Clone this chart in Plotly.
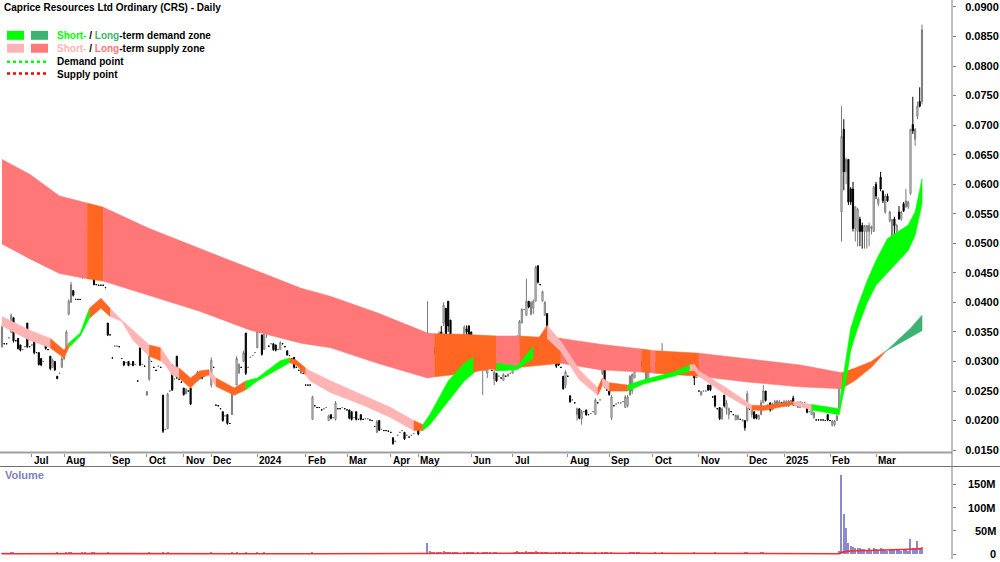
import plotly.graph_objects as go
import pandas as pd

W, H = 1000, 562
FONT = "Liberation Sans, Arial, sans-serif"

# ---------------- data ----------------
# trading days shown per month (Jun-2023 partial ... Mar-2025 partial)
month_bar_counts = [13, 14, 20, 16, 16, 12, 20, 21, 18, 19, 12, 23, 18, 24, 18, 19, 20, 21, 16, 20, 20, 21]
month_labels = ["Jul", "Aug", "Sep", "Oct", "Nov", "Dec", "2024", "Feb", "Mar", "Apr", "May", "Jun",
                "Jul", "Aug", "Sep", "Oct", "Nov", "Dec", "2025", "Feb", "Mar"]

# prices in thousandths of A$ (0.0325 -> 32.5)
open_m = [
    32.5, 33.0, 33.0, 34.0, 35.0, 37.4, 33.5, 33.9, 32.8, 32.0, 32.5, 36.5, 32.5,
    32.8, 33.9, 31.5, 31.5, 30.5, 30.0, 33.9, 32.0, 30.9, 29.0, 30.0, 27.5, 28.0, 29.0,
    30.5, 32.0, 38.0, 40.0, 42.0, 40.5, 40.5, 40.5, 44.2, 49.5, 52.0, 51.0, 50.0, 48.5, 43.0, 42.9, 42.9, 42.9, 42.5, 36.5,
    34.5, 30.6, 32.6, 32.6, 32.5, 30.5, 30.0, 29.8, 30.0, 29.5, 30.0, 29.5, 26.7, 32.3, 29.5, 29.2,
    24.3, 27.0, 30.0, 29.0, 28.5, 29.2, 29.0, 24.3, 18.5, 18.6, 25.0, 29.4, 27.0, 30.9, 27.0, 26.5,
    25.5, 24.5, 25.0, 25.5, 27.0, 26.5, 26.7, 27.0, 28.0, 27.5, 28.0, 28.0,
    26.0, 29.0, 22.6, 22.5, 22.0, 21.5, 20.8, 21.0, 19.5, 21.0, 25.0, 26.0, 28.0, 29.0, 30.0, 34.8, 29.0, 30.7, 31.0, 31.5,
    32.3, 35.0, 34.5, 32.0, 36.0, 32.6, 33.0, 33.0, 32.8, 32.0, 32.0, 33.0, 32.5, 31.8, 31.0, 30.5, 30.7, 29.0, 28.5, 28.0, 28.0,
    26.0, 26.0, 26.0, 20.2, 22.5, 22.2, 22.2, 21.8, 22.0, 22.2, 20.0, 21.0, 20.5, 20.2, 22.0, 22.0, 22.2, 22.0,
    21.8, 21.8, 21.5, 20.5, 21.5, 20.2, 21.0, 20.2, 20.3, 20.3, 20.1, 20.0, 19.0, 18.0, 20.0, 18.5, 18.3, 18.3, 18.2,
    18.0, 17.1, 16.5, 17.5, 18.0, 18.3, 18.0, 17.5, 17.2, 17.5, 17.8, 18.5,
    19.0, 18.8, 19.0, 19.0, 29.2, 29.5, 33.1, 32.3, 31.2, 31.7, 35.0, 36.5, 39.0, 40.2, 37.0, 32.5, 33.0, 33.0, 32.5, 31.8, 33.0, 35.5, 36.0,
    35.0, 33.5, 32.0, 30.0, 29.3, 29.2, 28.5, 28.0, 30.0, 28.5, 27.0, 28.0, 27.5, 27.2, 26.8, 27.5, 27.5, 28.0,
    28.0, 28.9, 29.4, 32.6, 36.5, 38.8, 37.8, 40.2, 38.0, 39.0, 40.2, 46.2, 43.0, 40.2, 37.8, 38.1, 33.0, 31.1, 30.5, 30.0, 30.0, 29.0, 27.5, 26.0,
    27.5, 24.2, 23.5, 23.0, 21.0, 22.0, 20.3, 21.5, 21.8, 21.0, 21.2, 21.5, 21.0, 23.0, 23.5, 28.0, 31.0, 26.5,
    25.0, 20.5, 22.5, 22.8, 23.0, 23.0, 23.2, 22.2, 22.5, 24.3, 25.0, 27.2, 29.0, 31.0, 30.0, 28.5, 26.7, 27.0, 28.3,
    28.5, 28.4, 31.0, 31.0, 30.0, 30.5, 29.3, 30.0, 29.4, 30.2, 29.5, 30.9, 30.4, 30.5, 30.2, 30.2, 31.0, 30.9, 30.6, 27.3,
    25.0, 24.3, 25.0, 25.0, 26.0, 26.0, 24.0, 24.2, 22.0, 22.2, 20.3, 24.3, 22.0, 21.0, 21.5, 21.0, 20.1, 20.2, 20.2, 20.0, 20.0,
    20.0, 22.5, 21.0, 21.5, 21.0, 20.2, 21.0, 23.0, 25.0, 22.0, 23.0, 21.8, 22.5, 22.5, 22.5, 23.0,
    22.5, 22.5, 22.5, 23.2, 23.8, 22.5, 22.2, 22.2, 23.0, 23.0, 22.5, 21.5, 21.0, 20.5, 20.1, 20.1, 20.1, 20.1, 20.0, 21.0,
    20.0, 19.2, 19.3, 20.0, 22.2, 55.3, 69.3, 62.1, 64.2, 59.2, 59.2, 52.5, 52.0, 54.1, 53.0, 52.0, 52.0, 52.0, 52.5, 52.0,
    60.0, 56.7, 61.2, 58.8, 55.3, 58.0, 53.8, 51.3, 54.1, 52.0, 55.3, 54.1, 56.7, 56.2, 56.2, 58.4, 70.1, 67.6, 71.5, 74.0, 74.0,
]
high_m = [
    36.2, 33.0, 33.0, 34.0, 38.1, 37.4, 33.5, 33.9, 32.8, 32.0, 32.5, 36.5, 32.5,
    32.8, 33.9, 31.5, 31.5, 30.5, 30.0, 33.9, 32.0, 30.9, 30.5, 30.0, 27.5, 28.0, 30.9,
    32.0, 35.3, 40.5, 43.5, 42.0, 40.5, 40.5, 40.5, 52.5, 53.0, 52.0, 51.0, 50.0, 48.5, 43.0, 42.9, 42.9, 42.9, 42.5, 36.5,
    34.5, 30.6, 32.6, 32.6, 32.5, 30.5, 30.0, 29.8, 30.0, 29.5, 30.0, 29.5, 26.7, 32.3, 29.5, 29.2,
    25.0, 32.3, 30.0, 29.0, 28.5, 29.2, 29.0, 24.3, 18.5, 24.7, 25.0, 29.4, 27.0, 30.9, 27.0, 26.5,
    25.5, 25.5, 25.0, 25.5, 27.0, 26.5, 28.4, 28.4, 28.0, 28.5, 28.0, 28.0,
    30.7, 29.0, 22.6, 22.5, 22.0, 21.5, 20.8, 21.0, 19.5, 25.5, 25.0, 30.9, 29.7, 29.0, 31.8, 34.8, 29.0, 30.7, 31.0, 31.5,
    38.1, 35.0, 34.5, 37.8, 37.5, 32.6, 33.0, 33.0, 32.8, 32.0, 33.4, 33.0, 32.5, 31.8, 31.0, 30.5, 30.7, 29.0, 28.5, 28.8, 28.0,
    26.0, 26.0, 26.0, 24.2, 22.5, 22.2, 22.2, 21.8, 22.0, 22.2, 21.0, 21.0, 20.5, 23.3, 22.0, 22.0, 22.2, 22.0,
    21.8, 21.8, 21.5, 20.5, 21.5, 20.2, 21.0, 20.2, 20.3, 20.3, 20.1, 20.0, 19.0, 20.1, 20.0, 18.5, 18.3, 18.3, 18.2,
    18.0, 17.1, 16.5, 17.5, 18.0, 18.3, 18.0, 17.5, 17.2, 17.5, 17.8, 18.5,
    19.0, 18.8, 19.0, 19.0, 40.2, 33.1, 33.1, 32.3, 33.0, 35.1, 36.0, 40.0, 39.0, 40.2, 37.0, 34.5, 33.0, 33.0, 32.5, 32.2, 36.1, 36.1, 36.1,
    35.0, 33.5, 32.0, 30.0, 30.0, 30.2, 29.6, 31.1, 30.0, 28.5, 28.5, 28.0, 27.5, 27.2, 28.0, 27.5, 28.0, 28.0,
    29.0, 30.0, 34.5, 37.0, 39.0, 38.8, 44.0, 40.2, 40.2, 40.5, 46.2, 46.2, 43.0, 42.0, 40.2, 38.1, 33.0, 31.1, 30.5, 30.0, 30.0, 29.0, 27.5, 28.5,
    27.5, 24.2, 23.5, 23.0, 22.2, 22.0, 21.8, 21.5, 21.8, 21.0, 21.2, 21.5, 23.8, 23.0, 23.5, 32.3, 32.3, 26.5,
    25.0, 24.3, 22.5, 22.8, 23.0, 23.0, 23.2, 24.3, 24.3, 27.7, 28.0, 32.3, 31.8, 31.0, 30.0, 28.5, 28.5, 28.5, 29.0,
    28.5, 30.0, 31.0, 31.0, 33.1, 30.5, 30.0, 30.0, 30.3, 30.2, 31.0, 30.9, 31.0, 30.5, 31.2, 31.0, 31.0, 30.9, 30.6, 27.3,
    25.0, 25.0, 25.0, 25.0, 26.0, 26.0, 24.0, 24.2, 22.0, 22.2, 22.2, 24.3, 23.5, 22.2, 21.5, 21.0, 21.0, 21.0, 20.2, 20.2, 20.0,
    25.0, 22.5, 22.5, 21.5, 21.0, 21.0, 23.5, 26.0, 25.0, 22.8, 23.0, 23.0, 23.5, 23.5, 23.5, 23.0,
    23.5, 23.5, 23.5, 23.5, 24.2, 23.0, 23.3, 23.3, 23.0, 23.0, 22.5, 21.5, 22.8, 21.5, 20.1, 20.1, 20.1, 20.1, 20.0, 21.0,
    20.0, 20.1, 20.1, 21.0, 26.0, 73.2, 71.0, 64.5, 64.2, 59.5, 60.4, 56.2, 56.0, 54.5, 53.5, 53.0, 53.0, 53.5, 53.0, 59.7,
    60.4, 57.8, 62.1, 59.0, 58.4, 58.4, 55.5, 54.1, 54.5, 53.3, 56.3, 55.5, 57.0, 59.2, 57.2, 69.3, 74.8, 69.5, 74.0, 76.4, 87.0,
]
low_m = [
    32.3, 33.0, 33.0, 34.0, 34.8, 33.2, 33.5, 32.0, 31.7, 32.0, 32.5, 32.3, 32.5,
    32.8, 31.2, 31.5, 29.3, 29.2, 30.0, 32.0, 32.0, 28.5, 29.0, 28.4, 27.0, 28.0, 29.0,
    30.2, 31.9, 37.8, 40.0, 41.0, 40.5, 40.5, 40.5, 44.0, 49.0, 52.0, 51.0, 44.5, 42.9, 43.0, 42.9, 42.9, 42.9, 42.5, 34.3,
    34.5, 30.6, 32.6, 32.6, 32.5, 30.5, 29.2, 29.8, 29.2, 29.5, 29.2, 29.5, 26.7, 29.2, 29.5, 29.2,
    24.2, 26.7, 30.0, 29.0, 28.5, 29.2, 29.0, 17.9, 18.5, 18.6, 25.0, 25.0, 27.0, 27.0, 27.0, 26.5,
    24.2, 24.5, 25.0, 22.6, 26.1, 26.5, 26.7, 27.0, 27.0, 27.5, 28.0, 28.0,
    25.6, 29.0, 22.6, 22.5, 22.0, 19.8, 20.8, 19.3, 19.5, 21.0, 25.0, 26.0, 28.0, 29.0, 30.0, 27.7, 29.0, 30.7, 31.0, 31.5,
    32.3, 35.0, 31.0, 32.0, 34.0, 32.6, 33.0, 31.8, 31.7, 32.0, 32.0, 33.0, 32.5, 31.0, 31.0, 30.5, 28.8, 29.0, 28.5, 28.0, 28.0,
    26.0, 26.0, 26.0, 20.1, 22.5, 22.2, 22.2, 21.8, 22.0, 22.2, 20.0, 20.2, 20.5, 20.0, 22.0, 22.0, 22.2, 22.0,
    21.8, 20.2, 20.0, 20.5, 20.0, 20.2, 20.0, 20.2, 20.3, 20.3, 20.1, 20.0, 19.0, 17.9, 18.2, 18.5, 18.3, 18.3, 18.2,
    18.0, 15.9, 16.5, 17.5, 18.0, 18.3, 16.7, 17.5, 17.2, 17.5, 17.8, 18.5,
    17.5, 18.8, 19.0, 19.0, 28.9, 29.2, 29.2, 31.1, 31.2, 31.7, 32.5, 36.0, 33.4, 35.0, 32.0, 32.5, 32.5, 32.2, 32.5, 31.8, 33.0, 34.5, 32.7,
    33.5, 32.5, 32.0, 29.2, 29.2, 24.3, 28.5, 27.2, 29.0, 28.5, 26.0, 26.5, 27.5, 27.2, 26.8, 27.5, 27.5, 28.0,
    28.0, 28.9, 29.4, 32.6, 36.5, 38.8, 37.8, 39.0, 37.8, 38.0, 40.2, 43.2, 43.0, 40.2, 37.8, 33.9, 33.0, 31.1, 30.5, 28.9, 29.2, 29.0, 25.2, 25.5,
    27.5, 23.0, 23.5, 23.0, 20.0, 20.2, 19.3, 21.5, 20.8, 21.0, 21.2, 21.5, 21.0, 23.0, 23.5, 27.7, 25.5, 25.0,
    24.2, 20.1, 22.5, 22.8, 23.0, 23.0, 23.2, 22.2, 22.2, 24.3, 24.5, 27.2, 28.9, 29.5, 29.0, 28.5, 26.7, 26.9, 28.3,
    28.5, 28.4, 29.8, 30.0, 30.0, 29.6, 29.2, 29.3, 29.4, 29.4, 29.5, 30.2, 30.4, 30.5, 30.0, 30.2, 30.2, 30.0, 26.0, 27.3,
    25.0, 24.3, 25.0, 25.0, 25.0, 25.0, 24.0, 22.2, 22.0, 20.1, 20.1, 22.2, 21.0, 20.2, 21.5, 21.0, 20.1, 20.1, 20.2, 19.8, 18.3,
    19.8, 21.8, 20.5, 20.2, 20.2, 20.2, 21.0, 23.0, 23.2, 22.0, 21.5, 21.8, 22.2, 22.3, 22.3, 23.0,
    22.3, 22.3, 22.3, 23.2, 22.5, 22.5, 22.2, 22.2, 23.0, 23.0, 21.2, 21.5, 21.0, 20.3, 20.1, 20.1, 20.1, 20.1, 20.0, 19.9,
    20.0, 19.0, 19.0, 20.0, 22.0, 50.3, 59.0, 60.0, 56.5, 56.5, 52.0, 50.3, 49.5, 49.5, 49.1, 49.1, 49.1, 49.5, 51.5, 52.0,
    57.5, 56.3, 58.8, 56.8, 55.0, 57.0, 53.5, 51.0, 50.3, 50.3, 54.0, 53.8, 55.3, 56.0, 55.8, 58.2, 68.5, 66.5, 71.0, 73.0, 73.5,
]
close_m = [
    35.8, 33.0, 33.0, 34.0, 37.8, 33.5, 33.5, 32.2, 31.9, 32.0, 32.5, 32.5, 32.5,
    32.8, 31.5, 31.5, 29.5, 29.4, 30.0, 32.2, 32.0, 28.8, 30.2, 28.6, 27.1, 28.0, 30.5,
    31.8, 35.0, 40.2, 43.0, 41.2, 40.5, 40.5, 40.5, 50.0, 51.5, 52.0, 51.0, 44.8, 43.0, 43.0, 42.9, 42.9, 42.9, 42.5, 34.5,
    34.5, 30.6, 32.6, 32.6, 32.5, 30.5, 29.4, 29.8, 29.3, 29.5, 29.3, 29.5, 26.7, 29.4, 29.5, 29.2,
    24.9, 31.8, 30.0, 29.0, 28.5, 29.2, 29.0, 18.2, 18.5, 24.5, 25.0, 25.2, 27.0, 27.3, 27.0, 26.5,
    24.4, 25.3, 25.0, 22.8, 26.3, 26.5, 28.2, 28.2, 27.2, 28.3, 28.0, 28.0,
    30.2, 29.0, 22.6, 22.5, 22.0, 20.0, 20.8, 19.5, 19.5, 25.2, 25.0, 30.5, 29.5, 29.0, 31.5, 28.0, 29.0, 30.7, 31.0, 31.5,
    35.1, 35.0, 31.2, 37.5, 36.5, 32.6, 33.0, 32.0, 31.9, 32.0, 33.2, 33.0, 32.5, 31.1, 31.0, 30.5, 29.0, 29.0, 28.5, 28.6, 28.0,
    26.0, 26.0, 26.0, 24.0, 22.5, 22.2, 22.2, 21.8, 22.0, 22.2, 20.8, 20.4, 20.5, 23.0, 22.0, 22.0, 22.2, 22.0,
    21.8, 20.4, 20.2, 20.5, 20.2, 20.2, 20.2, 20.2, 20.3, 20.3, 20.1, 20.0, 19.0, 19.8, 18.4, 18.5, 18.3, 18.3, 18.2,
    18.0, 16.1, 16.5, 17.5, 18.0, 18.3, 16.9, 17.5, 17.2, 17.5, 17.8, 18.5,
    17.7, 18.8, 19.0, 19.0, 30.0, 32.8, 29.5, 31.2, 32.8, 34.8, 33.0, 39.5, 33.6, 36.0, 32.5, 34.0, 32.6, 32.3, 32.5, 32.0, 35.8, 35.0, 33.0,
    33.8, 32.6, 32.0, 29.4, 29.8, 29.9, 29.4, 30.8, 29.3, 28.5, 28.2, 26.7, 27.5, 27.2, 27.8, 27.5, 27.8, 28.0,
    28.9, 29.8, 32.6, 36.8, 38.8, 38.8, 40.2, 39.2, 40.0, 40.2, 46.0, 43.4, 43.0, 41.8, 40.0, 34.1, 33.0, 31.1, 30.5, 29.2, 29.4, 29.0, 25.4, 28.2,
    27.5, 23.2, 23.5, 23.0, 22.0, 20.4, 21.5, 21.5, 21.0, 21.0, 21.2, 21.5, 23.5, 23.0, 23.5, 31.0, 26.0, 25.2,
    24.4, 24.0, 22.5, 22.8, 23.0, 23.0, 23.2, 24.0, 24.0, 27.5, 27.8, 29.0, 31.5, 29.8, 29.2, 28.5, 28.3, 28.3, 28.8,
    28.5, 29.8, 30.0, 30.2, 30.9, 29.8, 29.8, 29.5, 30.2, 29.6, 30.8, 30.4, 30.9, 30.5, 31.0, 30.9, 30.3, 30.1, 27.2, 27.3,
    25.0, 24.9, 25.0, 25.0, 25.2, 25.2, 24.0, 22.5, 22.0, 20.3, 22.0, 22.5, 23.0, 22.0, 21.5, 21.0, 20.9, 20.8, 20.2, 20.1, 18.8,
    24.5, 22.0, 22.2, 20.4, 20.4, 20.9, 23.0, 25.0, 23.4, 22.6, 21.8, 22.8, 23.2, 23.3, 23.2, 23.0,
    23.2, 23.2, 23.3, 23.4, 22.7, 23.0, 23.0, 23.0, 23.0, 23.0, 21.4, 21.5, 22.5, 21.3, 20.1, 20.1, 20.1, 20.1, 20.0, 20.1,
    20.0, 19.9, 19.9, 20.8, 25.8, 68.1, 62.1, 64.2, 57.0, 57.0, 52.5, 56.2, 55.8, 52.0, 52.0, 53.0, 53.0, 53.0, 52.8, 59.5,
    58.0, 57.5, 59.2, 57.2, 58.0, 57.2, 55.3, 54.0, 53.0, 53.0, 54.1, 55.3, 55.5, 57.2, 57.0, 69.3, 69.0, 69.3, 73.2, 73.2, 86.1,
]
# daily volume, millions of shares
volume_mn = [
    0.8, 0.2, 0.3, 0.4, 1.5, 1.2, 0.3, 0.9, 0.7, 0.2, 0.3, 1.1, 0.4,
    0.3, 0.9, 0.2, 0.8, 0.6, 0.2, 1.0, 0.3, 0.9, 0.7, 0.8, 1.2, 0.3, 0.9,
    0.8, 1.5, 2.5, 2.8, 0.9, 0.2, 0.2, 0.3, 3.5, 2.0, 0.4, 0.3, 1.8, 1.5, 0.2, 0.1, 0.2, 0.2, 0.3, 1.4,
    0.3, 0.5, 0.4, 0.2, 0.3, 0.3, 0.6, 0.2, 0.5, 0.2, 0.5, 0.3, 0.4, 0.9, 0.2, 0.3,
    0.6, 1.5, 0.3, 0.2, 0.2, 0.3, 0.2, 2.2, 0.3, 1.8, 0.3, 0.9, 0.2, 0.8, 0.3, 0.2,
    0.6, 0.5, 0.2, 0.8, 0.6, 0.3, 0.7, 0.6, 0.5, 0.6, 0.2, 0.2,
    1.2, 0.4, 0.3, 0.2, 0.2, 0.7, 0.2, 0.8, 0.2, 1.5, 0.3, 2.0, 0.9, 0.3, 1.0, 2.4, 0.3, 0.2, 0.3, 0.2,
    1.8, 0.3, 0.9, 1.6, 1.0, 0.3, 0.2, 0.6, 0.5, 0.2, 0.5, 0.2, 0.3, 0.5, 0.2, 0.2, 0.8, 0.2, 0.2, 0.4, 0.2,
    0.3, 0.2, 0.2, 1.3, 0.2, 0.2, 0.2, 0.2, 0.2, 0.2, 0.6, 0.5, 0.2, 1.1, 0.2, 0.2, 0.3, 0.2,
    0.2, 0.6, 0.5, 0.2, 0.5, 0.2, 0.4, 0.2, 0.2, 0.2, 0.2, 0.2, 0.3, 0.8, 0.6, 0.2, 0.2, 0.2, 0.2,
    0.2, 1.0, 0.3, 0.2, 0.2, 0.2, 0.7, 0.2, 0.2, 0.2, 0.2, 0.3,
    0.6, 0.2, 0.2, 0.2, 22.0, 4.5, 3.8, 1.5, 2.0, 3.5, 2.8, 4.8, 3.9, 4.2, 3.0, 2.2, 1.2, 1.5, 0.8, 1.0, 3.2, 2.0, 2.6,
    2.2, 1.4, 0.8, 2.0, 1.1, 3.5, 1.2, 2.5, 1.3, 0.6, 1.8, 1.5, 0.5, 0.4, 1.0, 0.5, 0.8, 0.5,
    1.0, 1.6, 4.5, 4.0, 3.2, 0.8, 4.8, 2.2, 2.5, 2.0, 5.5, 3.5, 1.0, 2.0, 2.5, 3.8, 1.0, 0.8, 0.6, 1.4, 1.2, 0.6, 2.1, 1.6,
    0.7, 1.5, 0.4, 0.5, 1.6, 1.4, 1.8, 0.4, 0.9, 0.4, 0.3, 0.4, 1.5, 0.3, 0.4, 3.5, 3.0, 1.2,
    1.0, 2.0, 0.4, 0.3, 0.3, 0.3, 0.3, 1.1, 1.0, 1.8, 1.5, 2.2, 1.8, 1.2, 1.0, 0.5, 1.1, 1.0, 0.7,
    0.4, 1.2, 1.0, 0.9, 1.9, 0.8, 0.7, 0.8, 0.7, 0.8, 1.0, 0.7, 0.8, 0.3, 1.0, 0.8, 0.9, 0.8, 2.0, 0.3,
    0.4, 0.6, 0.2, 0.2, 0.6, 0.6, 0.3, 1.2, 0.3, 1.0, 1.1, 1.0, 0.9, 0.8, 0.2, 0.2, 0.6, 0.6, 0.2, 0.5, 1.4,
    2.5, 0.7, 0.9, 0.8, 0.6, 0.5, 1.2, 1.8, 1.1, 0.6, 0.8, 0.7, 0.8, 0.7, 0.6, 0.2,
    0.7, 0.6, 0.7, 0.4, 1.0, 0.4, 0.6, 0.6, 0.2, 0.2, 0.9, 0.2, 1.0, 0.6, 0.2, 0.2, 0.2, 0.2, 0.2, 0.7,
    0.2, 0.8, 0.7, 0.9, 6.0, 170.0, 85.0, 55.0, 22.0, 16.0, 15.0, 13.0, 11.0, 12.0, 9.0, 10.0, 8.0, 11.0, 7.0, 12.0,
    10.0, 7.0, 12.0, 9.0, 8.0, 6.0, 7.0, 9.0, 10.0, 8.0, 9.0, 6.0, 7.0, 8.0, 6.0, 31.0, 12.0, 9.0, 26.0, 11.0, 15.0,
]

# long-term zone: bar index, two edges (thousandths of A$), state of each following stretch
lt_idx = [0, 12, 25, 37, 44, 64, 86, 108, 130, 143, 164, 185, 188, 200, 215, 225, 243, 260, 278, 282, 284, 303,
          325, 347, 365, 371, 378, 384, 390, 395, 400]
lt_a = [64.2, 61.7, 58.0, 56.8, 56.1, 52.5, 49.1, 45.7, 42.4, 41.0, 38.1, 34.8, 34.7, 34.6, 34.3, 34.3, 33.9, 32.9,
        32.1, 31.9, 31.8, 31.4, 30.4, 29.4, 28.1, 28.9, 30.0, 31.7, 33.0, 34.0, 35.2]
lt_b = [49.9, 47.4, 44.9, 44.0, 43.6, 41.2, 38.5, 35.3, 33.1, 32.3, 29.6, 27.2, 27.4, 27.9, 28.9, 29.0, 29.7, 28.6,
        28.2, 28.1, 28.0, 27.5, 26.5, 25.7, 25.4, 26.8, 29.0, 31.6, 33.8, 35.6, 37.8]
lt_state = ["S", "S", "S", "O", "S", "S", "S", "S", "S", "S", "S", "S", "O", "O", "S", "O", "S", "S", "O", "S",
            "O", "S", "S", "S", "O", "O", "O", "D", "D", "D"]

# short-term zone
st_idx = [0, 12, 21, 27, 29, 34, 38, 43, 47, 52, 57, 64, 69, 71, 74, 77, 82, 86, 90, 93,
          101, 106, 111, 121, 125, 128, 132, 134, 143, 157, 169, 179, 183, 186, 194, 201, 205, 209, 215, 224,
          231, 237, 243, 251, 259, 261, 264, 272, 279, 292, 299, 301, 303, 315, 326, 331, 344, 352, 364, 365,
          367, 369, 372, 376, 380, 385, 390, 394, 397, 400]
st_a = [37.6, 35.3, 33.9, 31.9, 33.1, 34.8, 39.0, 40.7, 39.0, 37.0, 35.3, 32.8, 32.3, 31.1, 29.4, 28.9, 27.2, 28.4, 28.6, 27.2,
        25.5, 26.7, 27.2, 30.1, 30.6, 30.2, 28.9, 28.4, 26.7, 24.3, 22.2, 20.0, 19.3, 21.0, 26.7, 29.7, 30.7, 30.6, 29.7, 29.2,
        32.6, 36.1, 33.4, 28.6, 25.5, 27.2, 26.4, 26.0, 26.9, 28.2, 29.4, 29.5, 28.4, 25.5, 22.6, 22.5, 23.2, 22.7, 22.0, 25.5,
        30.6, 35.6, 39.3, 43.5, 47.1, 50.8, 52.1, 53.1, 55.3, 60.9]
st_b = [36.0, 33.6, 32.3, 30.6, 32.3, 34.3, 37.3, 39.0, 37.6, 36.8, 33.6, 30.9, 30.1, 29.4, 27.7, 27.2, 25.5, 27.2, 27.7, 25.8,
        24.3, 25.2, 26.7, 28.9, 29.8, 29.4, 27.7, 26.7, 24.7, 22.6, 20.5, 18.3, 18.3, 19.3, 23.3, 26.7, 28.0, 29.7, 28.4, 28.6,
        30.6, 33.9, 31.7, 26.9, 24.3, 25.9, 25.0, 25.0, 26.2, 27.5, 28.4, 28.5, 27.5, 24.3, 21.8, 21.7, 22.7, 21.8, 21.0, 23.0,
        26.7, 31.9, 35.6, 39.8, 42.9, 44.9, 47.1, 48.8, 51.3, 56.7]
st_state = ["P", "P", "O", "O", "G", "G", "O", "O", "P", "P", "P", "O", "P", "P", "P", "O", "O", "O", "P", "O",
            "O", "G", "G", "G", "O", "O", "P", "P", "P", "P", "P", "O", "G", "G", "G", "G", "O", "O", "G", "G",
            "O", "P", "P", "P", "O", "P", "O", "G", "G", "G", "P", "P", "P", "P", "O", "O", "P", "G", "G", "G",
            "G", "G", "G", "G", "G", "G", "G", "G", "G"]

price_ticks = [0.015, 0.020, 0.025, 0.030, 0.035, 0.040, 0.045, 0.050, 0.055, 0.060, 0.065, 0.070, 0.075, 0.080, 0.085, 0.090]
vol_ticks = [0, 50e6, 100e6, 150e6]
vol_tick_labels = ["0", "50M", "100M", "150M"]

# ---------------- build ----------------
n = len(close_m)
assert len(open_m) == len(high_m) == len(low_m) == n == len(volume_mn) == sum(month_bar_counts)
bars = list(range(n))
month_starts = []
acc = 0
for cnt in month_bar_counts[:-1]:
    acc += cnt
    month_starts.append(acc)

to_price = lambda arr: [v / 1000 for v in arr]
vol = [v * 1e6 for v in volume_mn]
vol_avg = pd.Series(vol).rolling(60, min_periods=1).mean().tolist()


def px(x):
    return x / W


def py(y):
    return 1 - y / H


fig = go.Figure()

ORANGE = "#FF6622"
lt_colors = {"S": "#FF7777", "O": ORANGE, "D": "#3CB371"}
st_colors = {"P": "#FFB4B4", "O": ORANGE, "G": "#00FF00"}


def add_band(idx, a, b, states, colors):
    start = 0
    for k in range(1, len(states) + 1):
        if k == len(states) or states[k] != states[start]:
            seg = slice(start, k + 1)
            xs = idx[seg] + idx[seg][::-1]
            ys = to_price(a[seg]) + to_price(b[seg])[::-1]
            col = colors[states[start]]
            fig.add_trace(go.Scatter(x=xs, y=ys, mode="lines", fill="toself", fillcolor=col,
                                     line=dict(color=col, width=0.6), hoverinfo="skip",
                                     xaxis="x", yaxis="y"))
            start = k


add_band(lt_idx, lt_a, lt_b, lt_state, lt_colors)
add_band(st_idx, st_a, st_b, st_state, st_colors)

fig.add_trace(go.Candlestick(
    x=bars, open=to_price(open_m), high=to_price(high_m), low=to_price(low_m), close=to_price(close_m),
    increasing=dict(line=dict(color="#7A7A7A", width=1), fillcolor="#FFFFFF"),
    decreasing=dict(line=dict(color="#000000", width=1), fillcolor="#000000"),
    whiskerwidth=0, hoverinfo="skip", xaxis="x", yaxis="y"))

fig.add_trace(go.Bar(x=bars, y=vol, marker=dict(color="#8A8AD0", line=dict(width=0)), width=0.45,
                     xaxis="x2", yaxis="y2", hoverinfo="skip"))
fig.add_trace(go.Scatter(x=bars, y=vol_avg, mode="lines", line=dict(color="#FF2A2A", width=1.6),
                         xaxis="x2", yaxis="y2", hoverinfo="skip"))

XR = [-0.87, 413.04]
tickfont = dict(family=FONT, size=10, color="#000000", weight="bold")
fig.update_layout(
    width=W, height=H, margin=dict(l=0, r=0, t=0, b=0),
    paper_bgcolor="white", plot_bgcolor="white", showlegend=False,
    xaxis=dict(domain=[0, 0.952], range=XR, anchor="y", showgrid=False, zeroline=False, showline=False,
               tickmode="array", tickvals=month_starts, ticks="outside", ticklen=3, tickcolor="#909090",
               showticklabels=False, rangeslider=dict(visible=False), fixedrange=True),
    yaxis=dict(domain=[py(455), 1], range=[0.014579, 0.091178], side="right", anchor="x",
               showgrid=False, zeroline=False, showline=False, tickmode="array", tickvals=price_ticks,
               ticktext=[f"{t:.4f}" for t in price_ticks], ticks="outside", ticklen=3, tickcolor="#808080",
               tickfont=dict(family=FONT, size=11, color="#000000", weight="bold"), ticklabelstandoff=7),
    xaxis2=dict(domain=[0, 0.952], range=XR, anchor="y2", showgrid=False, zeroline=False, showline=False,
                showticklabels=False, ticks=""),
    yaxis2=dict(domain=[0, py(469)], range=[-10.7e6, 188.6e6], side="right", anchor="x2",
                showgrid=False, zeroline=False, showline=False, tickmode="array", tickvals=vol_ticks,
                ticks="outside", ticklen=3, tickcolor="#808080", showticklabels=False),
    bargap=0,
)

ann = []
shapes = []
# frame lines
shapes.append(dict(type="line", xref="paper", yref="paper", x0=0, x1=px(952), y0=py(455), y1=py(455),
                   line=dict(color="#A0A0A0", width=2)))
shapes.append(dict(type="line", xref="paper", yref="paper", x0=0, x1=1, y0=py(469), y1=py(469),
                   line=dict(color="#707070", width=1)))
shapes.append(dict(type="line", xref="paper", yref="paper", x0=px(952), x1=px(952), y0=0, y1=1,
                   line=dict(color="#808080", width=1)))

# month labels
for xs, lab in zip(month_starts, month_labels):
    ann.append(dict(x=xs, y=py(462.5), xref="x", yref="paper", text=lab, showarrow=False,
                    xanchor="left", yanchor="middle", xshift=0, font=tickfont))
# volume axis labels
for v, lab in zip(vol_ticks, vol_tick_labels):
    ann.append(dict(x=px(998), y=v, xref="paper", yref="y2", text=lab, showarrow=False,
                    xanchor="right", yanchor="middle", font=dict(family=FONT, size=11, color="#000000", weight="bold")))
ann.append(dict(x=px(3), y=py(478), xref="paper", yref="paper", text="Volume", showarrow=False,
                xanchor="left", yanchor="middle", font=dict(family=FONT, size=11, color="#8080C0", weight="bold")))

# title and legend
ann.append(dict(x=px(2), y=py(7.5), xref="paper", yref="paper", text="Caprice Resources Ltd Ordinary (CRS) - Daily",
                showarrow=False, xanchor="left", yanchor="middle", font=tickfont))
legend_rows = [
    (35.5, '<span style="color:#00FF00">Short-</span> / <span style="color:#3CB371">Long</span>-term demand zone'),
    (48.5, '<span style="color:#FFB4B4">Short-</span> / <span style="color:#FF7777">Long</span>-term supply zone'),
    (62, "Demand point"),
    (74.5, "Supply point"),
]
for y, txt in legend_rows:
    ann.append(dict(x=px(55), y=py(y), xref="paper", yref="paper", text=txt, showarrow=False,
                    xanchor="left", yanchor="middle", font=tickfont))
for (y0, y1), c1, c2 in [((31, 40), "#00FF00", "#3CB371"), ((44, 53), "#FFB4B4", "#FF7777")]:
    shapes.append(dict(type="rect", xref="paper", yref="paper", x0=px(7), x1=px(24), y0=py(y1), y1=py(y0),
                       fillcolor=c1, line=dict(width=0)))
    shapes.append(dict(type="rect", xref="paper", yref="paper", x0=px(31), x1=px(48), y0=py(y1), y1=py(y0),
                       fillcolor=c2, line=dict(width=0)))
for y, c in [(62, "#00FF00"), (74, "#FF0000")]:
    shapes.append(dict(type="line", xref="paper", yref="paper", x0=px(7), x1=px(48), y0=py(y), y1=py(y),
                       line=dict(color=c, width=2.5, dash="dot")))

fig.update_layout(annotations=ann, shapes=shapes)
fig.write_html("out.html")
